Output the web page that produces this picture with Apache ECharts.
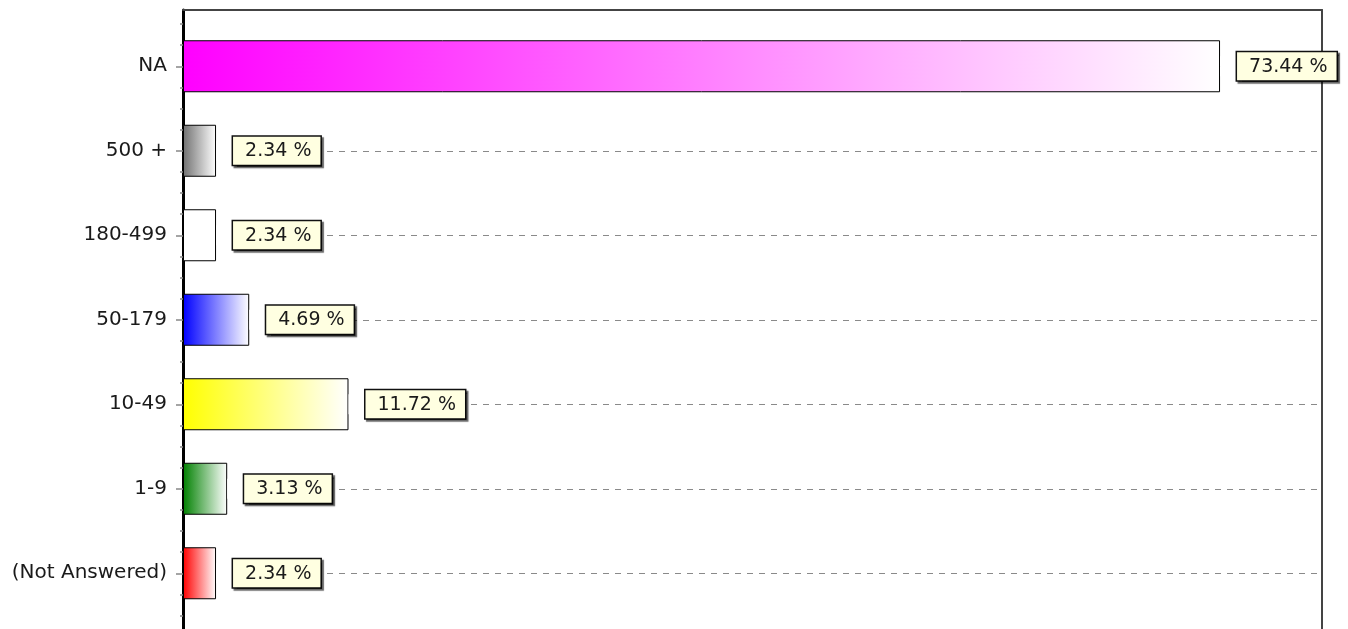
<!DOCTYPE html>
<html>
<head>
<meta charset="utf-8">
<script src="https://cdn.jsdelivr.net/npm/echarts@6/dist/echarts.min.js"></script>
<style>
  html, body { margin: 0; padding: 0; background: #fff; }
  #chart { width: 1348px; height: 629px; }
</style>
</head>
<body>
<div id="chart"></div>
<script>
// categories bottom to top
var categories = ['(Not Answered)', '1-9', '10-49', '50-179', '180-499', '500 +', 'NA'];
var values = [2.34, 3.13, 11.72, 4.69, 2.34, 2.34, 73.44];
var barColors = ['#ff0000', '#008000', '#ffff00', '#0000ff', '#ffffff', '#707070', '#ff00ff'];

var xMax = 80.66;

// bars fade from their colour to white
var barData = values.map(function (v, i) {
    return {
        value: v,
        itemStyle: {
            color: new echarts.graphic.LinearGradient(0, 0, 1, 0, [
                { offset: 0, color: barColors[i] },
                { offset: 1, color: '#ffffff' }
            ])
        }
    };
});

var option = {
    animation: false,
    backgroundColor: '#fff',
    grid: [
        { left: 183, right: 26, top: 24, height: 591.5 },
        { left: 183, right: 26, top: 10, height: 640 }
    ],
    xAxis: [
        { type: 'value', gridIndex: 0, min: 0, max: xMax, show: false },
        {
            // top frame line
            type: 'value', gridIndex: 1, min: 0, max: 1, position: 'top',
            axisLine: { show: true, onZero: false, lineStyle: { color: '#444', width: 2 } },
            axisTick: { show: false }, axisLabel: { show: false }, splitLine: { show: false }
        }
    ],
    yAxis: [
        {
            type: 'category',
            gridIndex: 0,
            data: categories,
            axisLine: { show: false },
            axisTick: { show: true, alignWithLabel: true, length: 7, lineStyle: { color: '#888', width: 1.5 } },
            axisLabel: { margin: 16, color: '#1a1a1a', fontFamily: 'DejaVu Sans', fontSize: 20 },
            splitLine: { show: false }
        },
        {
            // quarter-band minor ticks
            type: 'value',
            gridIndex: 0,
            position: 'left',
            min: 0,
            max: 7,
            interval: 0.25,
            axisLine: { show: false, onZero: false },
            axisTick: { show: true, length: 3, lineStyle: { color: '#888', width: 1.5 } },
            axisLabel: { show: false },
            splitLine: { show: false }
        },
        {
            // left axis line, full height
            type: 'value',
            gridIndex: 1,
            position: 'left',
            min: 0,
            max: 1,
            axisLine: { show: true, onZero: false, lineStyle: { color: '#000', width: 3 } },
            axisTick: { show: false },
            axisLabel: { show: false },
            splitLine: { show: false }
        },
        {
            // right frame line
            type: 'value',
            gridIndex: 1,
            position: 'right',
            min: 0,
            max: 1,
            axisLine: { show: true, onZero: false, lineStyle: { color: '#444', width: 2 } },
            axisTick: { show: false },
            axisLabel: { show: false },
            splitLine: { show: false }
        }
    ],
    series: [
        {
            // dashed guide lines, hidden under bars and labels
            type: 'custom',
            xAxisIndex: 0,
            yAxisIndex: 0,
            silent: true,
            data: values.map(function (v, i) { return [v, i]; }),
            renderItem: function (params, api) {
                var start = api.coord([0, api.value(1)]);
                var end = api.coord([xMax, api.value(1)]);
                return {
                    type: 'line',
                    shape: { x1: start[0], y1: Math.round(start[1]) + 0.5, x2: end[0], y2: Math.round(end[1]) + 0.5 },
                    style: { stroke: '#8a8a8a', lineWidth: 1, lineDash: [6, 6] }
                };
            },
            z: 1
        },
        {
            type: 'bar',
            xAxisIndex: 0,
            yAxisIndex: 0,
            barWidth: 52,
            clip: false,
            data: barData,
            itemStyle: { borderColor: '#000', borderWidth: 1 },
            label: {
                show: true,
                position: 'right',
                distance: 0,
                formatter: function (p) {
                    return '{g|}{b|' + p.value.toFixed(2) + ' %}';
                },
                rich: {
                    g: { width: 17, height: 20, backgroundColor: '#fff' },
                    b: {
                        fontFamily: 'DejaVu Sans',
                        fontSize: 19,
                        color: '#1a1a1a',
                        backgroundColor: '#ffffe1',
                        borderColor: '#111',
                        borderWidth: 1.5,
                        padding: [5, 9, 4, 12],
                        shadowColor: 'rgba(0,0,0,0.6)',
                        shadowOffsetX: 2,
                        shadowOffsetY: 2,
                        shadowBlur: 1
                    }
                }
            },
            z: 2
        }
    ]
};

var myChart = echarts.init(document.getElementById('chart'));
myChart.setOption(option);
</script>
</body>
</html>
